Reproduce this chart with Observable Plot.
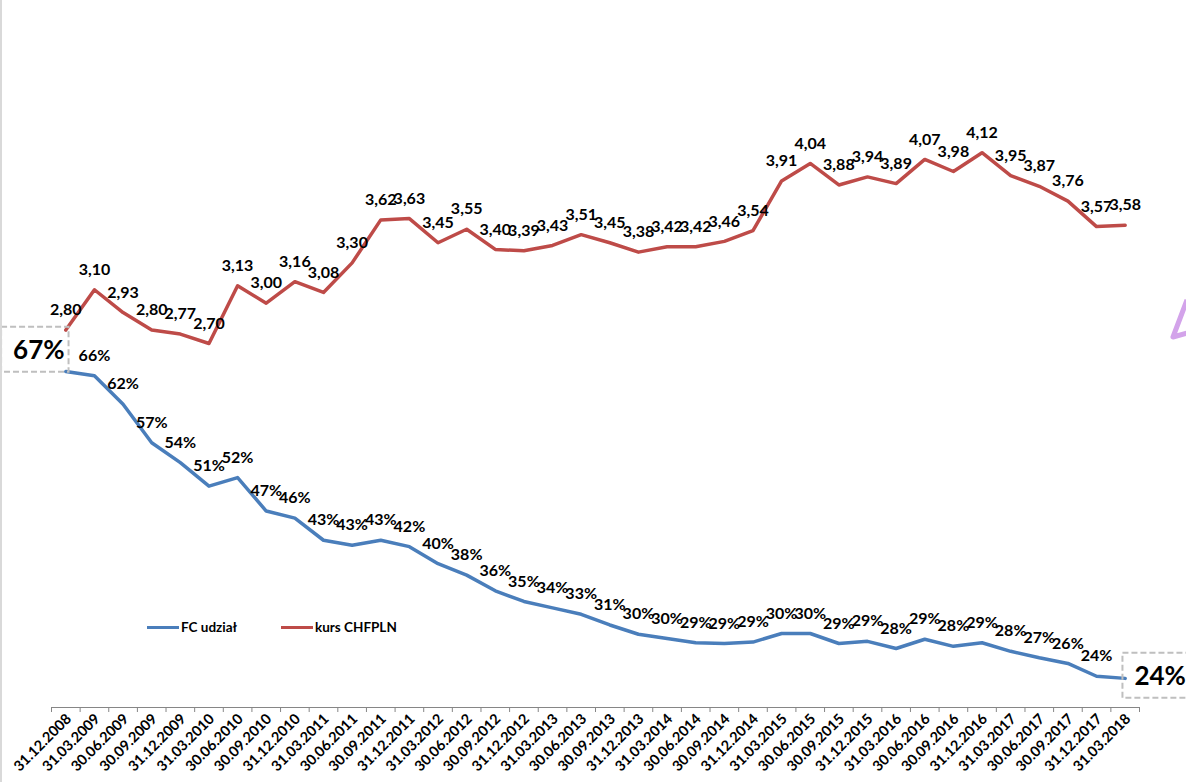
<!DOCTYPE html>
<html>
<head>
<meta charset="utf-8">
<script src="https://cdn.jsdelivr.net/npm/d3@7"></script>
<script src="https://cdn.jsdelivr.net/npm/@observablehq/plot@0.6"></script>
<style>
  html, body { margin: 0; padding: 0; background: #fff; }
  #wrap { position: relative; width: 1186px; height: 782px; overflow: hidden; font-family: Lato, "Open Sans", sans-serif; }
  #edge { position: absolute; left: 0; top: 0; width: 2px; height: 782px; background: #d9d9d9; }
  #legend { position: absolute; left: 147px; top: 619px; display: flex; font-weight: bold; font-size: 13.5px; color: #000; }
  .li { display: flex; align-items: center; margin-right: 44px; }
  .sw { width: 32px; height: 3px; margin-right: 2px; }
  #deco { position: absolute; left: 1160px; top: 290px; }
</style>
</head>
<body>
<div id="wrap">
  <div id="chart"></div>
  <div id="edge"></div>
  <div id="legend"></div>
  <svg id="deco" width="26" height="60"><polyline points="27,10 13,47 27,43" fill="none" stroke="#d3a3ea" stroke-width="5" stroke-linejoin="round"/></svg>
</div>
<script>
const dates = ["31.12.2008","31.03.2009","30.06.2009","30.09.2009","31.12.2009","31.03.2010","30.06.2010","30.09.2010","31.12.2010","31.03.2011","30.06.2011","30.09.2011","31.12.2011","31.03.2012","30.06.2012","30.09.2012","31.12.2012","31.03.2013","30.06.2013","30.09.2013","31.12.2013","31.03.2014","30.06.2014","30.09.2014","31.12.2014","31.03.2015","30.06.2015","30.09.2015","31.12.2015","31.03.2016","30.06.2016","30.09.2016","31.12.2016","31.03.2017","30.06.2017","30.09.2017","31.12.2017","31.03.2018"];

// FC udział (%)
const fcShare = [67.0, 66.4, 62.4, 57.0, 54.2, 50.9, 52.1, 47.4, 46.4, 43.3, 42.6, 43.3, 42.4, 40.0, 38.4, 36.2, 34.7, 33.8, 32.9, 31.4, 30.1, 29.5, 28.9, 28.8, 29.0, 30.2, 30.2, 28.8, 29.1, 28.1, 29.4, 28.4, 28.9, 27.7, 26.8, 26.0, 24.2, 23.9];

// kurs CHFPLN
const chfpln = [2.80, 3.10, 2.93, 2.80, 2.77, 2.70, 3.13, 3.00, 3.16, 3.08, 3.30, 3.62, 3.63, 3.45, 3.55, 3.40, 3.39, 3.43, 3.51, 3.45, 3.38, 3.42, 3.42, 3.46, 3.54, 3.91, 4.04, 3.88, 3.94, 3.89, 4.07, 3.98, 4.12, 3.95, 3.87, 3.76, 3.57, 3.58];

const seriesNames = ["FC udział", "kurs CHFPLN"];
const colors = ["#4a7ebb", "#be4b48"];

const rows = dates.map((d, i) => ({i, date: d, fc: fcShare[i], chf: chfpln[i]}));
const n = rows.length;

// secondary axis: map FC % onto the CHFPLN scale
const fcToY = p => 2.4916 - (67 - p) * 0.05299;

const fmtChf = v => v.toFixed(2).replace(".", ",");
const fmtPct = v => Math.round(v) + "%";

const font = "Lato, 'Open Sans', sans-serif";

const plot = Plot.plot({
  width: 1186,
  height: 782,
  marginLeft: 51,
  marginRight: 47,
  marginTop: 0,
  marginBottom: 75,
  style: {fontFamily: font, background: "transparent", overflow: "visible"},
  x: {type: "linear", domain: [-0.5, n - 0.5], axis: null},
  y: {domain: [2.70, 4.12], range: [343, 152.2], axis: null},
  marks: [
    Plot.frame({anchor: "bottom", stroke: "#868686", strokeWidth: 1}),
    Plot.axisX(d3.range(n + 1).map(k => k - 0.5), {tickSize: 5, tickFormat: () => "", stroke: "#868686", label: null}),
    Plot.axisX(d3.range(n), {
      tickSize: 0, tickPadding: 9, tickRotate: -45, dx: 3,
      tickFormat: i => dates[i], label: null,
      fontSize: 14.5, fontWeight: "bold", fill: "#000"
    }),
    Plot.line(rows, {x: "i", y: "chf", stroke: colors[1], strokeWidth: 3.5}),
    Plot.line(rows, {x: "i", y: d => fcToY(d.fc), stroke: colors[0], strokeWidth: 3.5}),
    Plot.text(rows, {x: "i", y: "chf", text: d => fmtChf(d.chf), dy: -20, fontSize: 16, fontWeight: "bold", fill: "#000"}),
    Plot.text(rows.slice(1, n - 1), {x: "i", y: d => fcToY(d.fc), text: d => fmtPct(d.fc), dy: -20, fontSize: 16, fontWeight: "bold", fill: "#000"}),
    Plot.text([rows[0]], {x: "i", y: d => fcToY(d.fc), text: d => fmtPct(d.fc), dx: -27, dy: -21, fontSize: 26, fontWeight: "bold", fill: "#000", className: "boxlab"}),
    Plot.text([rows[n - 1]], {x: "i", y: d => fcToY(d.fc), text: d => fmtPct(d.fc), dx: 35, dy: -2, fontSize: 26, fontWeight: "bold", fill: "#000", className: "boxlab"})
  ]
});

document.getElementById("chart").appendChild(plot);

// dashed boxes around the highlighted first/last values
d3.select(plot).selectAll("g.boxlab text").each(function() {
  const b = this.getBBox();
  const tr = this.getAttribute("transform");
  const r = d3.select(this.parentNode).insert("rect", "text")
    .attr("x", b.x - 12).attr("y", b.y - 6)
    .attr("width", b.width + 16).attr("height", b.height + 13)
    .attr("fill", "none").attr("stroke", "#bfbfbf")
    .attr("stroke-width", 2).attr("stroke-dasharray", "6,3");
  if (tr) r.attr("transform", tr);
});

// legend
const lg = document.getElementById("legend");
seriesNames.forEach((name, k) => {
  const it = document.createElement("div");
  it.className = "li";
  it.innerHTML = `<span class="sw" style="background:${colors[k]}"></span><span>${name}</span>`;
  lg.appendChild(it);
});
</script>
</body>
</html>
